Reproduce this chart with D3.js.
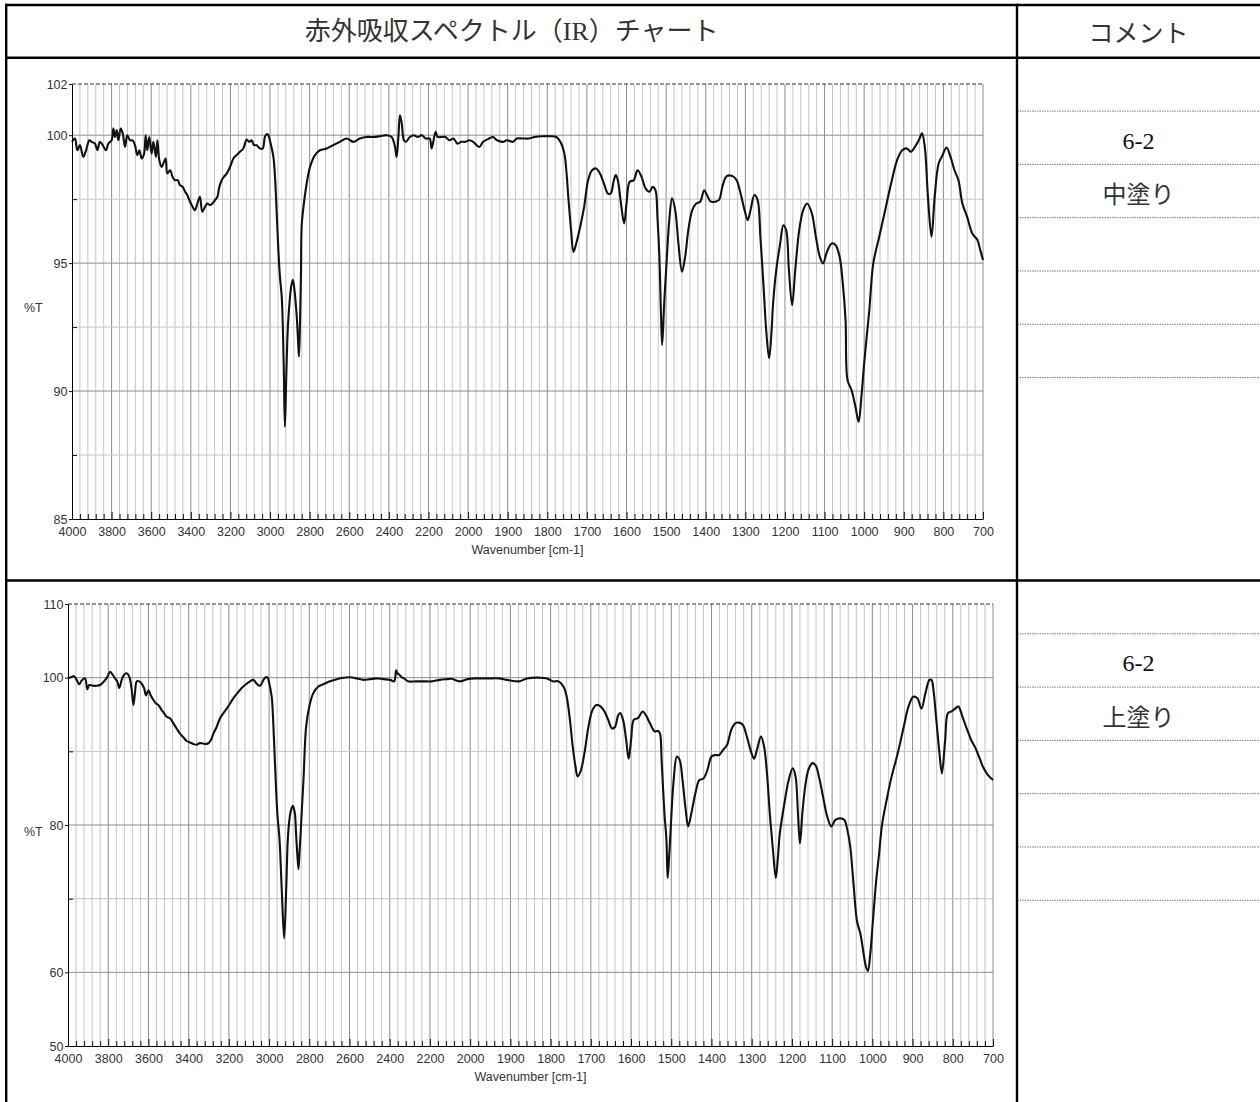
<!DOCTYPE html>
<html>
<head>
<meta charset="utf-8">
<script src="https://cdn.jsdelivr.net/npm/d3@7"></script>
<style>
  body { margin: 0; background: #fff; }
  svg { display: block; }
</style>
</head>
<body>
<div id="sheet"></div>
<script>
// table texts
const headers = ["赤外吸収スペクトル（IR）チャート", "コメント"];
const sampleIds = ["6-2", "6-2"];
const coatNames = ["中塗り", "上塗り"];

// wavenumber tick labels (cm-1), 200 steps above 2000 and 100 steps below
const wnLabels = [4000, 3800, 3600, 3400, 3200, 3000, 2800, 2600, 2400, 2200, 2000,
                  1900, 1800, 1700, 1600, 1500, 1400, 1300, 1200, 1100, 1000, 900, 800, 700];

// %T ticks
const midTicks = [102, 100, 95, 90, 85];
const midMinor = [97.5, 92.5, 87.5];
const topTicks = [110, 100, 80, 60, 50];
const topMinor = [90, 70];

// 中塗り spectrum [wavenumber, %T]
const midCoat = [
  [4000,99.74],[3985,99.87],[3973,99.41],[3960,99.61],[3943,99.15],[3929,99.41],[3912,99.8],[3901,99.74],
  [3884,99.67],[3872,99.41],[3859,99.74],[3845,99.61],[3828,99.41],[3817,99.67],[3800,99.8],[3791,100.26],
  [3783,99.93],[3774,100.2],[3766,99.8],[3754,100.26],[3744,100.07],[3732,99.54],[3721,100],[3707,99.8],
  [3694,99.8],[3682,99.61],[3670,99.22],[3660,99.41],[3648,99.09],[3636,99.28],[3628,100],[3620,99.41],
  [3610,99.93],[3598,99.28],[3589,99.74],[3576,99.15],[3569,99.8],[3559,99.02],[3547,98.76],[3539,98.89],
  [3527,99.09],[3519,98.5],[3505,98.63],[3492,98.37],[3480,98.24],[3466,98.24],[3455,98.05],[3441,97.98],
  [3429,97.79],[3418,97.66],[3404,97.4],[3391,97.2],[3379,97.07],[3367,97.33],[3354,97.59],[3342,97.01],
  [3328,97.2],[3317,97.33],[3303,97.27],[3291,97.33],[3278,97.46],[3266,97.59],[3256,97.98],[3244,98.24],
  [3233,98.37],[3219,98.5],[3202,98.76],[3185,99.09],[3169,99.22],[3152,99.35],[3135,99.48],[3118,99.83],
  [3105,99.74],[3093,99.8],[3081,99.61],[3068,99.61],[3051,99.48],[3037,99.48],[3026,99.93],[3017,100.04],
  [3009,100],[2997,99.67],[2983,99.15],[2975,98.37],[2967,97.07],[2958,95.51],[2950,94.47],[2941,93.68],
  [2935,92.4],[2930,90.6],[2925,88.6],[2918,90.6],[2910,92.5],[2900,93.6],[2893,94.1],[2885,94.35],
  [2876,93.9],[2866,93.0],[2858,91.9],[2854,91.35],[2849,92.6],[2844,94.5],[2840,96.5],[2829,97.33],
  [2815,98.11],[2798,98.76],[2773,99.22],[2748,99.41],[2714,99.48],[2681,99.61],[2647,99.74],[2613,99.87],
  [2580,99.74],[2546,99.87],[2512,99.93],[2479,99.93],[2445,99.96],[2411,100],[2386,99.93],[2369,99.54],
  [2361,99.15],[2352,99.93],[2344,100.78],[2335,100.46],[2324,99.8],[2314,99.74],[2294,99.93],[2274,100],
  [2254,99.93],[2234,100],[2214,99.87],[2194,99.87],[2184,99.48],[2164,100.13],[2154,99.93],[2134,99.93],
  [2114,99.93],[2094,99.8],[2074,99.87],[2054,99.67],[2034,99.74],[2014,99.74],[1997,99.8],[1987,99.74],
  [1972,99.54],[1962,99.74],[1947,99.87],[1937,99.93],[1927,99.8],[1912,99.74],[1902,99.8],[1887,99.74],
  [1877,99.87],[1862,99.87],[1847,99.87],[1832,99.93],[1812,99.96],[1792,99.96],[1777,99.93],[1767,99.74],
  [1757,99.28],[1752,98.63],[1747,97.59],[1740,96.29],[1734,95.44],[1727,95.77],[1717,96.42],[1707,97.2],
  [1697,98.24],[1687,98.63],[1677,98.7],[1667,98.5],[1657,98.11],[1647,97.72],[1640,97.72],[1632,98.24],
  [1627,98.44],[1622,98.24],[1614,97.33],[1606,96.55],[1600,97.33],[1592,98.18],[1582,98.24],[1572,98.63],
  [1562,98.37],[1552,97.92],[1542,97.79],[1534,97.98],[1527,97.85],[1522,96.81],[1517,95.25],[1513,93.0],
  [1510,91.8],[1505,93.4],[1500,94.73],[1492,96.68],[1485,97.53],[1477,97.07],[1469,95.77],[1460,94.66],
  [1452,95.25],[1444,96.29],[1434,97.07],[1424,97.33],[1414,97.4],[1404,97.85],[1397,97.66],[1387,97.4],
  [1377,97.4],[1367,97.46],[1357,98.05],[1347,98.4],[1332,98.4],[1322,98.24],[1312,97.72],[1302,97.07],
  [1294,96.68],[1287,97.07],[1277,97.66],[1269,97.46],[1262,96.03],[1254,94.08],[1247,92.3],[1240,91.28],
  [1234,92.3],[1230,93.42],[1222,94.73],[1212,95.77],[1204,96.48],[1197,96.29],[1190,94.73],[1182,93.36],
  [1174,94.73],[1164,96.29],[1154,97.07],[1144,97.33],[1132,96.94],[1122,96.03],[1112,95.25],[1104,94.99],
  [1094,95.44],[1082,95.77],[1072,95.7],[1062,95.25],[1054,94.21],[1047,92.77],[1042,90.43],[1032,90.04],
  [1022,89.39],[1014,88.8],[1007,89.78],[1000,91.08],[992,92.38],[987,93.16],[977,94.99],[962,96.03],
  [947,97.07],[932,98.11],[917,99.02],[904,99.41],[892,99.48],[882,99.35],[872,99.54],[862,99.8],
  [854,100.07],[847,99.54],[839,97.59],[830,96.03],[822,97.59],[812,98.89],[802,99.22],[792,99.52],
  [782,99.15],[772,98.63],[762,98.24],[752,97.33],[740,96.81],[727,96.16],[714,95.9],[707,95.51],[700,95.12]
];

// 上塗り spectrum [wavenumber, %T]
const topCoat = [
  [4000,99.9],[3982,100.1],[3970,100.2],[3957,99.7],[3944,99.1],[3932,99.6],[3915,99.9],[3904,98.4],
  [3894,99.0],[3877,98.9],[3857,98.9],[3841,99.0],[3821,99.5],[3804,100.1],[3791,100.8],[3778,100.4],
  [3766,99.9],[3755,99.5],[3745,98.6],[3733,99.7],[3721,100.4],[3708,100.6],[3695,100.1],[3683,98.3],
  [3675,96.3],[3667,97.9],[3658,99.5],[3645,99.5],[3634,99.2],[3622,98.6],[3612,97.6],[3600,98.3],
  [3589,97.6],[3576,97.0],[3562,96.5],[3551,96.3],[3534,95.6],[3523,95.2],[3509,94.7],[3493,94.5],
  [3476,93.8],[3460,93.1],[3443,92.4],[3426,91.9],[3410,91.4],[3393,91.2],[3377,91.0],[3360,90.9],
  [3347,91.1],[3335,91.1],[3319,91.0],[3302,91.1],[3290,91.5],[3277,92.4],[3261,93.3],[3244,94.5],
  [3227,95.2],[3211,95.8],[3194,96.5],[3178,97.2],[3158,97.9],[3136,98.6],[3115,99.1],[3095,99.5],
  [3078,99.7],[3062,99.2],[3045,98.9],[3028,99.7],[3017,100.05],[3007,100.0],[2999,99.2],[2987,97.4],
  [2979,93.8],[2970,87.9],[2959,81.6],[2949,78.4],[2945,76.5],[2937,71.2],[2925,64.6],[2915,71.2],
  [2907,78.0],[2899,80.7],[2891,82.0],[2882,82.6],[2872,81.6],[2866,78.9],[2861,76.6],[2854,74.0],
  [2848,76.6],[2843,78.9],[2838,81.6],[2829,86.1],[2816,93.3],[2800,96.1],[2780,97.9],[2755,98.8],
  [2730,99.1],[2697,99.5],[2664,99.8],[2630,100.0],[2597,100.05],[2564,99.9],[2531,99.7],[2498,99.8],
  [2465,99.9],[2432,99.8],[2398,99.7],[2378,99.5],[2368,101.0],[2362,100.6],[2352,100.4],[2340,100.05],
  [2329,99.9],[2309,99.5],[2269,99.5],[2230,99.5],[2191,99.5],[2151,99.7],[2112,99.8],[2092,99.85],
  [2053,99.5],[2013,99.8],[1987,99.9],[1957,99.9],[1928,99.9],[1908,99.7],[1878,99.5],[1859,99.9],
  [1829,100.0],[1809,99.9],[1795,99.5],[1780,99.5],[1768,98.8],[1760,97.4],[1752,94.3],[1745,90.6],
  [1738,87.9],[1733,86.6],[1726,87.2],[1716,89.7],[1706,93.3],[1696,95.6],[1686,96.3],[1676,96.1],
  [1666,95.4],[1657,94.3],[1647,93.1],[1640,93.3],[1632,94.9],[1627,95.2],[1620,94.3],[1612,91.5],
  [1606,89.0],[1600,91.5],[1593,94.3],[1583,94.5],[1571,95.4],[1563,94.9],[1553,93.8],[1541,92.7],
  [1533,92.8],[1528,92.4],[1524,88.8],[1517,81.6],[1512,78.0],[1509,72.8],[1505,76.0],[1502,78.9],
  [1494,86.1],[1486,89.3],[1479,88.8],[1472,86.1],[1464,82.0],[1458,79.8],[1450,81.6],[1440,84.3],
  [1430,86.1],[1420,86.3],[1410,87.5],[1400,89.3],[1391,89.5],[1381,89.5],[1371,90.2],[1361,90.9],
  [1351,92.9],[1341,93.8],[1331,93.9],[1322,93.6],[1312,92.0],[1302,90.0],[1294,89.0],[1287,90.2],
  [1277,92.0],[1269,90.6],[1262,87.0],[1255,81.6],[1247,76.5],[1240,72.8],[1235,75.5],[1230,78.9],
  [1220,82.5],[1208,86.1],[1198,87.7],[1191,86.6],[1185,81.6],[1180,77.5],[1174,81.6],[1167,85.2],
  [1159,87.5],[1149,88.4],[1141,88.1],[1131,86.1],[1121,83.4],[1112,81.1],[1102,79.8],[1092,80.7],
  [1080,80.9],[1070,80.7],[1062,79.3],[1055,77.1],[1047,72.1],[1038,66.9],[1030,65.3],[1023,63.0],
  [1016,60.8],[1011,60.2],[1005,62.6],[999,66.7],[991,72.1],[983,76.2],[976,80.0],[963,83.8],
  [952,86.6],[937,89.7],[922,93.3],[910,96.1],[898,97.4],[888,97.2],[878,95.8],[868,97.9],
  [858,99.7],[853,99.7],[848,98.3],[841,94.3],[833,89.7],[827,87.0],[819,91.5],[812,95.2],
  [804,95.4],[794,95.8],[786,96.1],[776,94.7],[764,92.9],[754,91.5],[745,90.6],[735,89.3],
  [725,87.9],[713,86.8],[700,86.1]
];

const W = 1260, H = 1102;
const leftX = 6.2, colX = 1017, topY = 5, headY = 57.8, splitY = 580.5, rowH = 53.3;

const svg = d3.select("#sheet").append("svg")
  .attr("width", W)
  .attr("height", H);

const panels = [
  {data: midCoat, yDomain: [85, 102], ticks: midTicks, minor: midMinor,
   box: {x0: 72, x1: 983, y0: 84, y1: 519}, cellTop: headY, id: sampleIds[0], name: coatNames[0]},
  {data: topCoat, yDomain: [50, 110], ticks: topTicks, minor: topMinor,
   box: {x0: 68, x1: 993, y0: 604, y1: 1046}, cellTop: splitY, id: sampleIds[1], name: coatNames[1]}
];

panels.forEach(drawPanel);
drawTable();

function drawPanel(p) {
  const b = p.box;
  const step = (b.x1 - b.x0) / 23;
  // split axis: 4000-2000 is compressed to half the scale of 2000-700
  const x = d3.scaleLinear()
    .domain([4000, 2000, 700])
    .range([b.x0, b.x0 + 10 * step, b.x1]);
  const y = d3.scaleLinear()
    .domain(p.yDomain)
    .range([b.y1, b.y0]);

  const g = svg.append("g");

  const minorWn = d3.range(4000, 2000, -40).concat(d3.range(2000, 699, -20))
    .filter(d => !wnLabels.includes(d));
  const innerMajor = wnLabels.filter(d => d !== 4000 && d !== 700);

  // vertical grid
  g.append("g").selectAll("line")
    .data(minorWn)
    .join("line")
    .attr("x1", d => x(d)).attr("x2", d => x(d))
    .attr("y1", b.y0).attr("y2", b.y1)
    .attr("stroke", "#c4c4c4")
    .attr("stroke-width", 1);
  g.append("g").selectAll("line")
    .data(innerMajor)
    .join("line")
    .attr("x1", d => x(d)).attr("x2", d => x(d))
    .attr("y1", b.y0).attr("y2", b.y1)
    .attr("stroke", "#8c8c8c")
    .attr("stroke-width", 1);

  // horizontal grid
  const innerTicks = p.ticks.filter(d => d !== p.yDomain[0] && d !== p.yDomain[1]);
  g.append("g").selectAll("line")
    .data(p.minor)
    .join("line")
    .attr("x1", b.x0).attr("x2", b.x1)
    .attr("y1", d => y(d)).attr("y2", d => y(d))
    .attr("stroke", "#c4c4c4");
  g.append("g").selectAll("line")
    .data(innerTicks)
    .join("line")
    .attr("x1", b.x0).attr("x2", b.x1)
    .attr("y1", d => y(d)).attr("y2", d => y(d))
    .attr("stroke", "#8c8c8c");

  // frame: dashed top, grey right
  g.append("line")
    .attr("x1", b.x0).attr("x2", b.x1)
    .attr("y1", b.y0).attr("y2", b.y0)
    .attr("stroke", "#333")
    .attr("stroke-dasharray", "4,2");
  g.append("line")
    .attr("x1", b.x1).attr("x2", b.x1)
    .attr("y1", b.y0).attr("y2", b.y1)
    .attr("stroke", "#8c8c8c");

  // spectrum
  const line = d3.line()
    .x(d => x(d[0]))
    .y(d => y(d[1]))
    .curve(d3.curveCatmullRom.alpha(0.5));
  g.append("path")
    .datum(p.data)
    .attr("fill", "none")
    .attr("stroke", "#111")
    .attr("stroke-width", 2.1)
    .attr("stroke-linejoin", "round")
    .attr("d", line);

  // bottom axis, ticks point into the plot
  g.append("g")
    .attr("transform", `translate(0,${b.y1})`)
    .call(d3.axisBottom(x).tickValues(wnLabels).tickFormat(d3.format("d"))
      .tickSize(-7).tickSizeOuter(0).tickPadding(8));
  g.append("g")
    .attr("transform", `translate(0,${b.y1})`)
    .call(d3.axisBottom(x).tickValues(minorWn).tickSize(-5).tickSizeOuter(0).tickFormat(""))
    .call(a => a.select(".domain").remove());

  // left axis
  g.append("g")
    .attr("transform", `translate(${b.x0},0)`)
    .call(d3.axisLeft(y).tickValues(p.ticks).tickFormat(d3.format("d"))
      .tickSize(3).tickSizeOuter(0).tickPadding(1.5));
  g.append("g")
    .attr("transform", `translate(${b.x0},0)`)
    .call(d3.axisRight(y).tickValues(p.minor).tickSize(5).tickFormat(""))
    .call(a => a.select(".domain").remove());

  g.selectAll(".tick text")
    .attr("fill", "#333")
    .style("font-family", "'Liberation Sans', Arial, sans-serif")
    .style("font-size", "12.5px");
  g.selectAll(".domain").attr("stroke", "#000");
  g.selectAll(".tick line").attr("stroke", "#111");

  g.append("text")
    .attr("x", (b.x0 + b.x1) / 2)
    .attr("y", b.y1 + 35)
    .attr("text-anchor", "middle")
    .attr("fill", "#333")
    .style("font-family", "'Liberation Sans', Arial, sans-serif")
    .style("font-size", "12.5px")
    .text("Wavenumber [cm-1]");

  g.append("text")
    .attr("x", 24)
    .attr("y", b.y0 + (b.y1 - b.y0) * 0.515)
    .attr("dominant-baseline", "central")
    .attr("fill", "#333")
    .style("font-family", "'Liberation Sans', Arial, sans-serif")
    .style("font-size", "12.5px")
    .text("%T");

  // comment column rows
  const rows = d3.range(1, 7).map(k => p.cellTop + k * rowH);
  svg.append("g").selectAll("line")
    .data(rows)
    .join("line")
    .attr("x1", colX).attr("x2", W)
    .attr("y1", d => d).attr("y2", d => d)
    .attr("stroke", "#777")
    .attr("stroke-width", 1)
    .attr("stroke-dasharray", "1.5,1");

  const cx = (colX + W) / 2;
  svg.append("text")
    .attr("x", cx)
    .attr("y", rows[0] + 37.5)
    .attr("text-anchor", "middle")
    .attr("fill", "#111")
    .style("font-family", "'Liberation Serif', 'Times New Roman', serif")
    .style("font-size", "24px")
    .text(p.id);
  svg.append("text")
    .attr("x", cx)
    .attr("y", rows[1] + 28.4)
    .attr("text-anchor", "middle")
    .attr("dominant-baseline", "central")
    .attr("fill", "#333")
    .style("font-family", "'Noto Sans CJK JP', sans-serif")
    .style("font-size", "24px")
    .text(p.name);
}

function drawTable() {
  const t = svg.append("g").attr("stroke", "#000").attr("stroke-width", 2.4);
  [topY, headY, splitY].forEach(yy => {
    t.append("line").attr("x1", leftX - 1.2).attr("x2", W).attr("y1", yy).attr("y2", yy);
  });
  [leftX, colX].forEach(xx => {
    t.append("line").attr("x1", xx).attr("x2", xx).attr("y1", topY - 1.2).attr("y2", H);
  });

  svg.append("text")
    .attr("x", (leftX + colX) / 2)
    .attr("y", (topY + headY) / 2)
    .attr("text-anchor", "middle")
    .attr("dominant-baseline", "central")
    .attr("fill", "#333")
    .style("font-family", "'Liberation Serif', 'Noto Sans CJK JP', serif")
    .style("font-size", "26px")
    .text(headers[0]);
  svg.append("text")
    .attr("x", (colX + W) / 2)
    .attr("y", (topY + headY) / 2)
    .attr("text-anchor", "middle")
    .attr("dominant-baseline", "central")
    .attr("fill", "#333")
    .style("font-family", "'Noto Sans CJK JP', sans-serif")
    .style("font-size", "25px")
    .text(headers[1]);
}
</script>
</body>
</html>
